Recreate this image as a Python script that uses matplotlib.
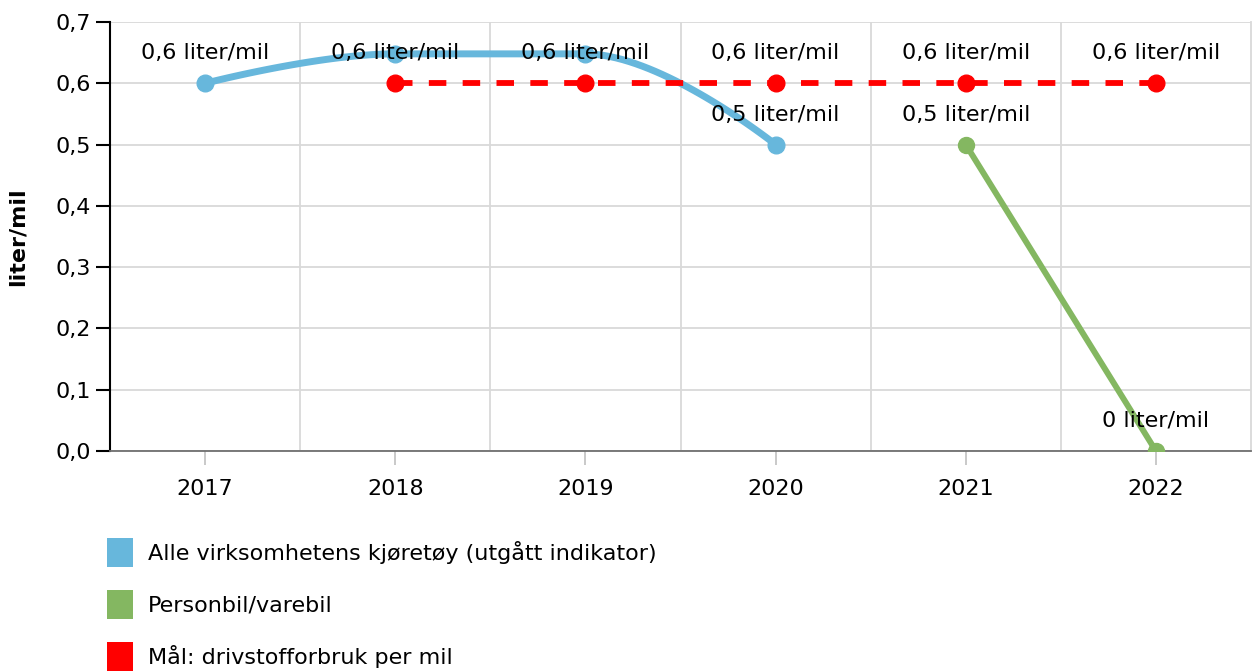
import numpy as np
import matplotlib
matplotlib.use("Agg")
import matplotlib.pyplot as plt
from matplotlib.patches import Patch

years = ["2017", "2018", "2019", "2020", "2021", "2022"]

# series values (None = no point)
alle_vals = [0.6, 0.648, 0.648, 0.5, None, None]
person_vals = [None, None, None, None, 0.5, 0.0]
maal_vals = [None, 0.6, 0.6, 0.6, 0.6, 0.6]

# which data labels are shown (Highcharts hides overlapping ones)
alle_labels = [True, True, True, True, False, False]
person_labels = [False, False, False, False, True, True]
maal_labels = [False, False, False, True, True, True]

legend_names = ["Alle virksomhetens kjøretøy (utgått indikator)",
                "Personbil/varebil",
                "Mål: drivstofforbruk per mil"]

c_blue = "#67b7dc"
c_green = "#84b761"
c_red = "#ff0000"

plt.rcParams['font.family'] = ['DejaVu Sans']
FS = 16


def spline(xs, ys, n=40):
    # Highcharts-like spline (smoothing 1.5) -> sampled bezier curve
    k = len(xs)
    lc = [(x, y) for x, y in zip(xs, ys)]
    rc = [(x, y) for x, y in zip(xs, ys)]
    for i in range(1, k - 1):
        x, y = xs[i], ys[i]
        lx, ly = xs[i - 1], ys[i - 1]
        nx, ny = xs[i + 1], ys[i + 1]
        lcx = (1.5 * x + lx) / 2.5
        lcy = (1.5 * y + ly) / 2.5
        rcx = (1.5 * x + nx) / 2.5
        rcy = (1.5 * y + ny) / 2.5
        corr = (rcy - lcy) * (rcx - x) / (rcx - lcx) + y - rcy
        lcy += corr
        rcy += corr
        if lcy > ly and lcy > y:
            lcy = max(ly, y); rcy = 2 * y - lcy
        elif lcy < ly and lcy < y:
            lcy = min(ly, y); rcy = 2 * y - lcy
        if rcy > ny and rcy > y:
            rcy = max(ny, y); lcy = 2 * y - rcy
        elif rcy < ny and rcy < y:
            rcy = min(ny, y); lcy = 2 * y - rcy
        lc[i] = (lcx, lcy)
        rc[i] = (rcx, rcy)
    t = np.linspace(0, 1, n)
    px, py = [], []
    for i in range(1, k):
        p0 = np.array([xs[i - 1], ys[i - 1]])
        p1 = np.array(rc[i - 1])
        p2 = np.array(lc[i])
        p3 = np.array([xs[i], ys[i]])
        pts = ((1 - t)[:, None] ** 3 * p0 + 3 * ((1 - t) ** 2 * t)[:, None] * p1
               + 3 * ((1 - t) * t ** 2)[:, None] * p2 + (t ** 3)[:, None] * p3)
        px.extend(pts[:, 0]); py.extend(pts[:, 1])
    return np.array(px), np.array(py)


def fmt(v):
    s = f"{v:.1f}".replace(".", ",")
    if s.endswith(",0"):
        s = s[:-2]
    return s + " liter/mil"


def pick(vals):
    idx = [i for i, v in enumerate(vals) if v is not None]
    return np.array(idx, dtype=float), np.array([vals[i] for i in idx])


fig = plt.figure(figsize=(12.53, 6.71), dpi=100)
ax = fig.add_axes([110 / 1253, 220 / 671, 1141 / 1253, 429 / 671])

# blue spline
bx, by = pick(alle_vals)
sx, sy = spline(bx, by)
ax.plot(sx, sy, color=c_blue, lw=5, solid_capstyle="round", zorder=3)
ax.plot(bx, by, "o", color=c_blue, ms=12, zorder=4)

# green line
gx, gy = pick(person_vals)
ax.plot(gx, gy, color=c_green, lw=4.3, marker="o", ms=11.5, zorder=3)

# red dashed target
rx, ry = pick(maal_vals)
ax.plot(rx, ry, color=c_red, lw=4.2, dashes=(3.0, 2.8), marker="o", ms=12, zorder=5)

# data labels
for vals, flags in [(alle_vals, alle_labels), (person_vals, person_labels), (maal_vals, maal_labels)]:
    for i, (v, f) in enumerate(zip(vals, flags)):
        if v is None or not f:
            continue
        off = 1 if v > 0.62 else 30
        ax.annotate(fmt(v), (i, v), xytext=(0, off), textcoords="offset pixels",
                    ha="center", va="center", fontsize=FS, color="#000000", zorder=6)

ax.set_xlim(-0.5, 5.5)
ax.set_ylim(0, 0.7)
ax.set_xticks(range(len(years)))
ax.set_xticklabels(years)
ax.set_yticks(np.arange(0, 0.71, 0.1))
ax.set_yticklabels([f"{v:.1f}".replace(".", ",") for v in np.arange(0, 0.71, 0.1)])
ax.set_xticks(np.arange(0.5, 5.5, 1.0), minor=True)
ax.tick_params(axis="y", direction="out", length=10, width=1.5, color="#000000",
               labelsize=FS, pad=4)
ax.tick_params(axis="x", which="major", direction="out", length=10, width=1.2,
               color="#c0c0c0", labelsize=FS, pad=10)
ax.tick_params(axis="x", which="minor", length=0)
ax.grid(axis="y", color="#d9d9d9", lw=1.3, zorder=0)
ax.grid(axis="x", which="minor", color="#d9d9d9", lw=1.3, zorder=0)
ax.set_axisbelow(True)
ax.spines["top"].set_visible(False)
ax.spines["right"].set_color("#d9d9d9")
ax.spines["right"].set_linewidth(1.3)
ax.spines["left"].set_color("#000000")
ax.spines["left"].set_linewidth(1.5)
ax.spines["bottom"].set_color("#707070")
ax.spines["bottom"].set_linewidth(1.3)
ax.set_ylabel("liter/mil", fontsize=FS, fontweight="bold", labelpad=20)

handles = [Patch(facecolor=c, edgecolor="none") for c in (c_blue, c_green, c_red)]
fig.legend(handles, legend_names, loc="upper left", bbox_to_anchor=(107 / 1253, 1 - 538 / 671),
           frameon=False, fontsize=FS, handlelength=1.17, handleheight=1.62,
           labelspacing=1.04, handletextpad=0.68, borderaxespad=0, borderpad=0)

fig.savefig("out.png", dpi=100)
